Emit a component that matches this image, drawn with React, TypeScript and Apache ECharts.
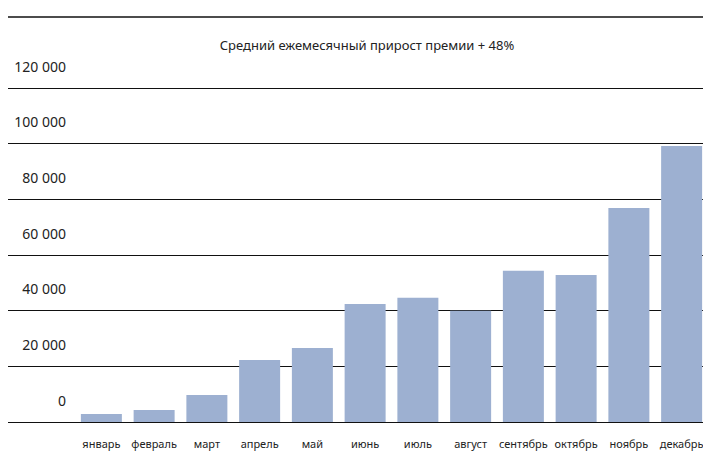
import React, { useEffect, useRef } from "react";
import * as echarts from "echarts";

const TITLE = "Средний ежемесячный прирост премии + 48%";
const months = [
  "январь", "февраль", "март", "апрель", "май", "июнь",
  "июль", "август", "сентябрь", "октябрь", "ноябрь", "декабрь",
];
const values = [2900, 4300, 9700, 22300, 26600, 42400, 44600, 40000, 54300, 52800, 76900, 99200];
const yMin = 0;
const yMax = 120000;
const yStep = 20000;

const FONT = "'Noto Sans', sans-serif";
const fmt = (v: number) => String(v).replace(/\B(?=(\d{3})+(?!\d))/g, " ");

export default function App() {
  const ref = useRef<HTMLDivElement>(null);
  useEffect(() => {
    if (!ref.current) return;
    const chart = echarts.init(ref.current, undefined, { renderer: "svg" });
    chart.setOption({
      animation: false,
      backgroundColor: "#ffffff",
      textStyle: { fontFamily: FONT },
      grid: [
        { left: 8, right: 0, top: 88, bottom: 29 },
        { left: 75, width: 633, top: 88, bottom: 29 },
        { left: 75, right: 0, top: 66, bottom: 51 },
      ],
      xAxis: [
        { type: "value", gridIndex: 0, show: false, min: 0, max: 1 },
        {
          type: "category",
          gridIndex: 1,
          data: months,
          axisLine: { show: false },
          axisTick: { show: false },
          axisLabel: { interval: 0, margin: 16, fontSize: 11, color: "#222", fontFamily: FONT },
        },
        { type: "value", gridIndex: 2, show: false, min: 0, max: 1 },
      ],
      yAxis: [
        {
          type: "value",
          gridIndex: 0,
          min: yMin,
          max: yMax,
          interval: yStep,
          axisLine: { show: false },
          axisTick: { show: false },
          axisLabel: { show: false },
          splitLine: { show: true, lineStyle: { color: "#111", width: 1 } },
        },
        { type: "value", gridIndex: 1, min: yMin, max: yMax, interval: yStep, show: false },
        {
          type: "value",
          gridIndex: 2,
          min: yMin,
          max: yMax,
          interval: yStep,
          axisLine: { show: false },
          axisTick: { show: false },
          splitLine: { show: false },
          axisLabel: {
            margin: 9,
            align: "right",
            fontSize: 14,
            color: "#222",
            fontFamily: FONT,
            formatter: fmt,
          },
        },
      ],
      series: [
        {
          type: "bar",
          xAxisIndex: 1,
          yAxisIndex: 1,
          data: values,
          barWidth: 41,
          itemStyle: { color: "#9DB0D1" },
        },
      ],
      graphic: [
        {
          type: "line",
          shape: { x1: 8, y1: 17, x2: 712, y2: 17 },
          style: { stroke: "#111", lineWidth: 1.5 },
        },
        {
          type: "text",
          x: 367,
          y: 45,
          style: {
            text: TITLE,
            align: "center",
            verticalAlign: "middle",
            fontSize: 13,
            fill: "#222",
            fontFamily: FONT,
          },
        },
      ],
    });
    return () => chart.dispose();
  }, []);
  return (
    <div style={{ position: "absolute", left: 0, top: 0, width: 703, height: 451, overflow: "hidden" }}>
      <div ref={ref} style={{ width: 712, height: 451 }} />
    </div>
  );
}
